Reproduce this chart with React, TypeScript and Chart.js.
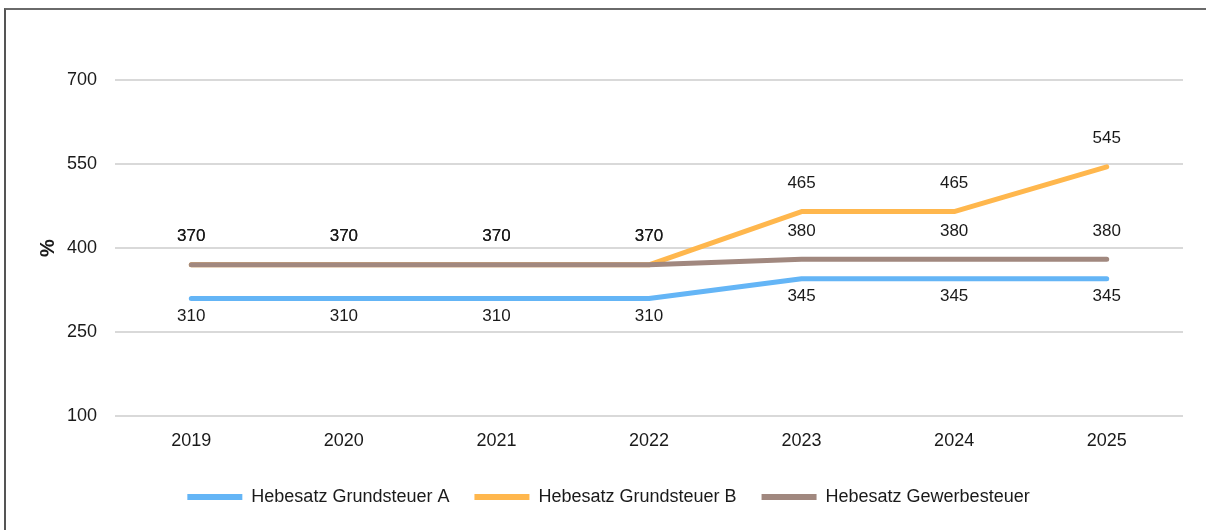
import React, { useEffect, useRef } from "react";
import { Chart, registerables } from "chart.js";

Chart.register(...registerables);

const categories = ["2019", "2020", "2021", "2022", "2023", "2024", "2025"];
const grundsteuerA = [310, 310, 310, 310, 345, 345, 345];
const grundsteuerB = [370, 370, 370, 370, 465, 465, 545];
const gewerbesteuer = [370, 370, 370, 370, 380, 380, 380];
const seriesNames = ["Hebesatz Grundsteuer A", "Hebesatz Grundsteuer B", "Hebesatz Gewerbesteuer"];
const yTicks = [100, 250, 400, 550, 700];

const FONT = "'Liberation Sans', Arial, sans-serif";
const TEXT = "#1a1a1a";

const labelOffsets = [18, -28, -28];

const dataLabels = {
  id: "dataLabels",
  afterDatasetsDraw(chart: any) {
    const ctx = chart.ctx;
    ctx.save();
    ctx.font = `17px ${FONT}`;
    ctx.fillStyle = TEXT;
    ctx.textAlign = "center";
    ctx.textBaseline = "middle";
    chart.data.datasets.forEach((ds: any, i: number) => {
      const meta = chart.getDatasetMeta(i);
      meta.data.forEach((pt: any, j: number) => {
        ctx.fillText(String(ds.data[j]), pt.x, pt.y + labelOffsets[i]);
      });
    });
    ctx.restore();
  },
};

export default function App() {
  const ref = useRef<HTMLCanvasElement>(null);
  useEffect(() => {
    if (!ref.current) return;
    const chart = new Chart(ref.current, {
      type: "line",
      data: {
        labels: categories,
        datasets: [
          { label: seriesNames[0], data: grundsteuerA, borderColor: "#64B5F6", backgroundColor: "#64B5F6", order: 1 },
          { label: seriesNames[1], data: grundsteuerB, borderColor: "#FFB74D", backgroundColor: "#FFB74D", order: 2 },
          { label: seriesNames[2], data: gewerbesteuer, borderColor: "#A1887F", backgroundColor: "#A1887F", order: 0 },
        ].map((d) => ({
          ...d,
          borderWidth: 5,
          pointRadius: 0,
          tension: 0,
          borderCapStyle: "round" as const,
          borderJoinStyle: "round" as const,
        })),
      },
      options: {
        responsive: false,
        animation: false,
        devicePixelRatio: 1,
        layout: { padding: { top: 80, left: 34, right: 23, bottom: 14 } },
        plugins: {
          tooltip: { enabled: false },
          legend: {
            position: "bottom",
            labels: {
              sort: (a: any, b: any) => a.datasetIndex - b.datasetIndex,
              boxWidth: 55,
              boxHeight: 6,
              useBorderRadius: true,
              borderRadius: 3,
              padding: 25,
              color: TEXT,
              font: { family: FONT, size: 18 },
              generateLabels: (chart: any) =>
                chart.data.datasets.map((ds: any, i: number) => ({
                  text: ds.label,
                  fillStyle: ds.borderColor,
                  strokeStyle: ds.borderColor,
                  lineWidth: 0,
                  datasetIndex: i,
                  fontColor: TEXT,
                  hidden: false,
                })),
            },
          },
        },
        scales: {
          x: {
            offset: true,
            grid: { display: false, drawTicks: false },
            border: { display: false },
            ticks: { color: TEXT, font: { family: FONT, size: 18 }, padding: 14 },
            afterFit: (s: any) => {
              s.height = 47;
            },
          },
          y: {
            min: 100,
            max: 700,
            afterBuildTicks: (s: any) => {
              s.ticks = yTicks.map((v) => ({ value: v }));
            },
            grid: { color: "#d9d9d9", lineWidth: 2, drawTicks: false },
            border: { display: false },
            ticks: { color: TEXT, font: { family: FONT, size: 18 }, padding: 18 },
            title: {
              display: true,
              text: "%",
              color: TEXT,
              font: { family: FONT, size: 20, weight: "bold" },
              padding: { top: 2, bottom: 0 },
            },
            afterFit: (s: any) => {
              s.width = 81;
            },
          },
        },
      },
      plugins: [dataLabels],
    });
    return () => chart.destroy();
  }, []);

  return (
    <div style={{ position: "fixed", left: 0, top: 0, width: 1206, height: 530, background: "#fff", overflow: "hidden" }}>
      <canvas ref={ref} width={1206} height={530} style={{ position: "absolute", left: 0, top: 0 }} />
      <div
        style={{
          position: "absolute",
          left: 4,
          top: 8,
          width: 1300,
          height: 600,
          borderLeft: "2px solid #555",
          borderTop: "2px solid #6a6a6a",
          pointerEvents: "none",
        }}
      />
    </div>
  );
}
